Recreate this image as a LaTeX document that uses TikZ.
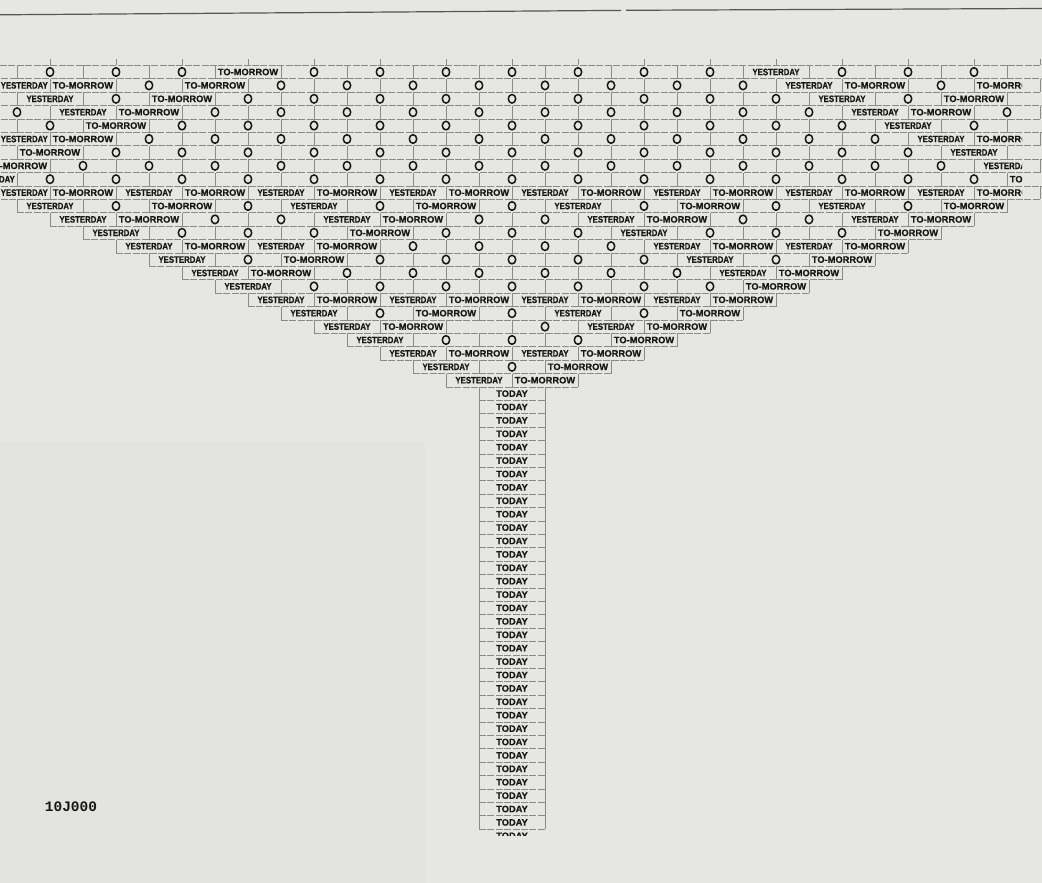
\documentclass[tikz,border=0pt]{standalone}
\usepackage{fontspec}
\newfontfamily\wf[BoldFeatures={FakeBold=0.6}]{Liberation Sans}
\newfontfamily\mf{Liberation Mono}
\usetikzlibrary{shapes.geometric}
\definecolor{paper}{RGB}{230,230,227}
\definecolor{papershade}{RGB}{227,227,224}
\definecolor{ink}{RGB}{22,22,22}
\definecolor{linecol}{RGB}{138,138,135}
\definecolor{rulecol}{RGB}{85,85,85}
\tikzset{
  gridv/.style={draw=linecol, line width=0.45pt},
  gridh/.style={draw=linecol, line width=0.5pt, dash pattern=on 7pt off 1.4pt},
  word/.style={font=\wf\bfseries\fontsize{9.3}{11}\selectfont, text=ink, inner sep=0pt, anchor=center},
  ring/.style={ellipse, draw=ink, line width=1.5pt, fill=paper, minimum width=7.4pt, minimum height=8.6pt, inner sep=0pt},
  stamp/.style={font=\mf\bfseries\fontsize{14.5}{16}\selectfont, text=ink, inner sep=0pt}
}
\newcommand\cellY[3]{\node[word] (#3) at (#1,#2) {\scalebox{0.84}[1]{YESTERDAY}};}
\newcommand\celly[3]{\node[word, anchor=east] (#3) at (#1+31,#2) {\scalebox{0.84}[1]{YESTERDAY}};}
\newcommand\cellT[3]{\node[word] (#3) at (#1,#2) {TO-MORROW};}
\newcommand\cellO[3]{\node[ring] (#3) at (#1,#2) {};}
\newcommand\cellE[3]{}
\def\rowlist{%
1/-16/{E,O,O,O,T,O,O,O,O,O,O,O,Y,O,O,O,E},
2/-15/{y,T,O,T,O,O,O,O,O,O,O,O,Y,T,O,T},
3/-16/{E,Y,O,T,O,O,O,O,O,O,O,O,O,Y,O,T,E},
4/-15/{O,Y,T,O,O,O,O,O,O,O,O,O,O,Y,T,O},
5/-16/{E,O,T,O,O,O,O,O,O,O,O,O,O,O,Y,O,E},
6/-15/{y,T,O,O,O,O,O,O,O,O,O,O,O,O,Y,T},
7/-16/{E,T,O,O,O,O,O,O,O,O,O,O,O,O,O,Y,E},
8/-15/{T,O,O,O,O,O,O,O,O,O,O,O,O,O,O,Y},
9/-16/{y,O,O,O,O,O,O,O,O,O,O,O,O,O,O,O,T},
10/-15/{y,T,Y,T,Y,T,Y,T,Y,T,Y,T,Y,T,Y,T},
11/-14/{Y,O,T,O,Y,O,T,O,Y,O,T,O,Y,O,T},
12/-13/{Y,T,O,O,Y,T,O,O,Y,T,O,O,Y,T},
13/-12/{Y,O,O,O,T,O,O,O,Y,O,O,O,T},
14/-11/{Y,T,Y,T,O,O,O,O,Y,T,Y,T},
15/-10/{Y,O,T,O,O,O,O,O,Y,O,T},
16/-9/{Y,T,O,O,O,O,O,O,Y,T},
17/-8/{Y,O,O,O,O,O,O,O,T},
18/-7/{Y,T,Y,T,Y,T,Y,T},
19/-6/{Y,O,T,O,Y,O,T},
20/-5/{Y,T,E,O,Y,T},
21/-4/{Y,O,O,O,T},
22/-3/{Y,T,Y,T},
23/-2/{Y,O,T},
24/-1/{Y,T}}
\begin{document}
\begin{tikzpicture}[x=1pt,y=-1pt]
\useasboundingbox (0,0) rectangle (1042,883);
\fill[paper] (0,0) rectangle (1042,883);
\fill[papershade] (0,442) rectangle (425,883);
\begin{scope}
\clip (0,0) rectangle (1042,883);
% top rule
\draw[rulecol, line width=1.2pt] (0,14.8) -- (621,10.4);
\draw[rulecol, line width=1.2pt] (626,10.3) -- (1042,8.5);
% ticks above the first row and its top line
\foreach \k in {-8,...,8} {\draw[gridv] (512+66*\k,59.5) -- (512+66*\k,65.3);}
\draw[gridh] (0,65.3) -- (1042,65.3);
% grid lines of the rows
\foreach \r/\m/\codes in \rowlist {
  \pgfmathsetmacro\yy{72+(\r-1)*13.4}
  \foreach \c [count=\i from 0] in \codes {
    \pgfmathsetmacro\xx{512+33*(\m+2*\i)}
    \draw[gridv] (\xx-33,\yy-6.7) -- (\xx-33,\yy+6.7);
    \draw[gridv] (\xx+33,\yy-6.7) -- (\xx+33,\yy+6.7);
    \draw[gridh] (\xx-33,\yy+6.7) -- (\xx+33,\yy+6.7);
  }
}
% cell contents (the typing stops short of the right edge)
\begin{scope}
\clip (0,0) rectangle (1022,883);
\foreach \r/\m/\codes in \rowlist {
  \pgfmathsetmacro\yy{72+(\r-1)*13.4}
  \foreach \c [count=\i from 0] in \codes {
    \pgfmathsetmacro\xx{512+33*(\m+2*\i)}
    \csname cell\c\endcsname{\xx}{\yy}{c\r-\i}
  }
}
\end{scope}
% TODAY column
\foreach \n in {25,...,57} {
  \pgfmathsetmacro\yy{72+(\n-1)*13.4}
  \draw[gridv] (479,\yy-6.7) -- (479,\yy+6.7);
  \draw[gridv] (545,\yy-6.7) -- (545,\yy+6.7);
  \draw[gridh] (479,\yy+6.7) -- (545,\yy+6.7);
  \node[word] (today\n) at (512,\yy) {TODAY};
}
\begin{scope}
  \clip (470,829) rectangle (560,835.6);
  \node[word] (today58) at (512,835.8) {TODAY};
\end{scope}
% stamp
\node[stamp] (stampnum) at (71,807) {10J000};
\end{scope}
\end{tikzpicture}
\end{document}
